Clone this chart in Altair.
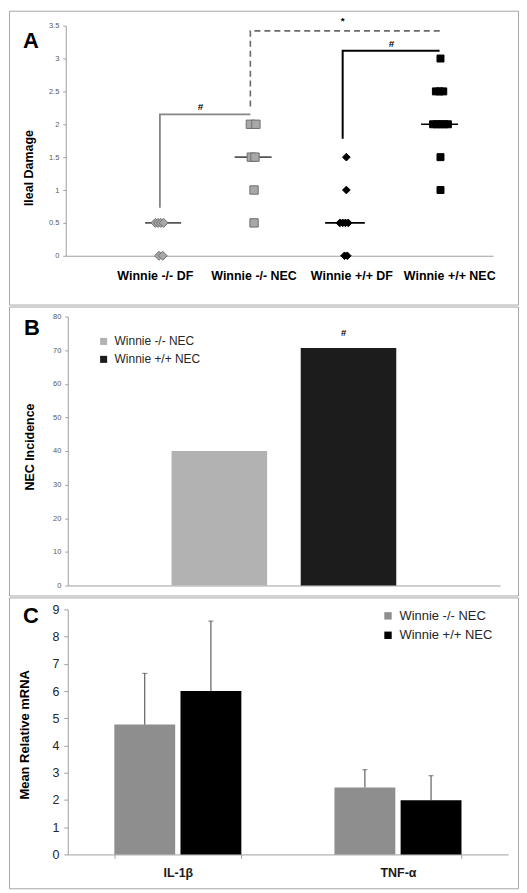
import altair as alt
import pandas as pd

FONT = "Liberation Sans"
BORDER = "#a6a6a6"
AXC = "#a0a0a0"

# ---------------- Panel A data ----------------
a_groups = ["Winnie -/- DF", "Winnie -/- NEC", "Winnie +/+ DF", "Winnie +/+ NEC"]
a_group = (["Winnie -/- DF"] * 6 + ["Winnie -/- NEC"] * 6 +
           ["Winnie +/+ DF"] * 8 + ["Winnie +/+ NEC"] * 11)
a_xpos = [0.94, 0.97, 1.00, 1.03, 0.98, 1.02,
          1.97, 2.03, 1.98, 2.02, 2.01, 2.01,
          3.01, 3.01, 2.94, 2.97, 3.00, 3.03, 2.99, 3.02,
          4.03, 3.98, 4.02, 4.06, 3.95, 3.99, 4.03, 4.07, 4.11, 4.03, 4.03]
a_score = [0.5, 0.5, 0.5, 0.5, 0, 0,
           2, 2, 1.5, 1.5, 1, 0.5,
           1.5, 1, 0.5, 0.5, 0.5, 0.5, 0, 0,
           3, 2.5, 2.5, 2.5, 2, 2, 2, 2, 2, 1.5, 1]
med_val = [0.5, 1.5, 0.5, 2.0]
med_x1 = [0.83, 1.80, 2.78, 3.82]
med_x2 = [1.22, 2.20, 3.21, 4.22]
label_x = [0.94, 2.01, 3.07, 4.13]

br1_x = [0.99, 0.99, 1.97]; br1_y = [0.73, 2.15, 2.15]
br2_x = [1.97, 1.97, 4.03]; br2_y = [2.27, 3.42, 3.42]
br3_x = [2.97, 2.97, 4.02]; br3_y = [1.78, 3.12, 3.12]
sig_text = ["#", "*", "#"]
sig_x = [1.43, 2.97, 3.50]
sig_y = [2.27, 3.57, 3.22]

# ---------------- Panel B data ----------------
b_cat = ["NEC", "NEC"]
b_group = ["Winnie -/- NEC", "Winnie +/+ NEC"]
b_val = [40, 70.6]

# ---------------- Panel C data ----------------
c_genes = ["IL-1β", "TNF-α"]
c_gene = ["IL-1β", "IL-1β", "TNF-α", "TNF-α"]
c_group = ["Winnie -/- NEC", "Winnie +/+ NEC", "Winnie -/- NEC", "Winnie +/+ NEC"]
c_mean = [4.77, 6.00, 2.46, 1.99]
c_err = [1.88, 2.57, 0.65, 0.90]

W = 511
HA, HB, HC = 295, 290, 292


def label(text, x, y, size, angle=0, weight="bold", color="#000000"):
    return alt.Chart(pd.DataFrame({"t": [text]})).mark_text(
        font=FONT, fontSize=size, fontWeight=weight, angle=angle, color=color,
        align="center", baseline="middle"
    ).encode(text="t:N", x=alt.value(x), y=alt.value(y))


# ================= Panel A =================
xA = alt.Scale(domain=[-0.03, 4.6], range=[57, 486])
yA = alt.Scale(domain=[0, 3.5], range=[246, 15])
xA_axis = alt.Axis(title=None, labels=False, ticks=False, grid=False,
                   domainColor=AXC, offset=-(HA - 246))
yA_axis = alt.Axis(title=None, grid=False, values=[0, 0.5, 1, 1.5, 2, 2.5, 3, 3.5],
                   format="~g", labelFontSize=7.5, labelColor="#595959", labelOverlap=False,
                   tickSize=3, tickColor=AXC, domainColor=AXC, labelPadding=4,
                   offset=-57)

pts = pd.DataFrame({"group": a_group, "x": a_xpos, "y": a_score})
points = alt.Chart(pts).mark_point(filled=True, opacity=1, strokeWidth=1).encode(
    x=alt.X("x:Q", scale=xA, axis=xA_axis),
    y=alt.Y("y:Q", scale=yA, axis=yA_axis),
    shape=alt.Shape("group:N", scale=alt.Scale(domain=a_groups, range=["diamond", "square", "diamond", "square"]), legend=None),
    fill=alt.Fill("group:N", scale=alt.Scale(domain=a_groups, range=["#a8a8a8", "#a8a8a8", "#000000", "#000000"]), legend=None),
    stroke=alt.Stroke("group:N", scale=alt.Scale(domain=a_groups, range=["#6e6e6e", "#6e6e6e", "#000000", "#000000"]), legend=None),
    size=alt.Size("group:N", scale=alt.Scale(domain=a_groups, range=[81, 49, 81, 49]), legend=None),
)

med = pd.DataFrame({"group": a_groups, "y": med_val, "x1": med_x1, "x2": med_x2})
medians = alt.Chart(med).mark_rule(strokeWidth=1.6).encode(
    x=alt.X("x1:Q", scale=xA, axis=xA_axis), x2="x2:Q",
    y=alt.Y("y:Q", scale=yA, axis=yA_axis),
    color=alt.Color("group:N", scale=alt.Scale(domain=a_groups, range=["#555555", "#555555", "#000000", "#000000"]), legend=None),
)


def bracket(xs, ys, color, width, dash=None):
    df = pd.DataFrame({"x": xs, "y": ys, "o": list(range(len(xs)))})
    kw = dict(color=color, strokeWidth=width)
    if dash:
        kw["strokeDash"] = dash
    return alt.Chart(df).mark_line(**kw).encode(
        x=alt.X("x:Q", scale=xA, axis=xA_axis),
        y=alt.Y("y:Q", scale=yA, axis=yA_axis),
        order="o:Q",
    )


b1 = bracket(br1_x, br1_y, "#858585", 1.8)
b2 = bracket(br2_x, br2_y, "#6a6a6a", 1.6, [6, 4])
b3 = bracket(br3_x, br3_y, "#000000", 2)

sig = alt.Chart(pd.DataFrame({"t": sig_text, "x": sig_x, "y": sig_y})).mark_text(
    font=FONT, fontSize=10, fontWeight="bold", color="#000000", baseline="middle"
).encode(x=alt.X("x:Q", scale=xA, axis=xA_axis), y=alt.Y("y:Q", scale=yA, axis=yA_axis), text="t:N")

cats = alt.Chart(pd.DataFrame({"t": a_groups, "x": label_x})).mark_text(
    font=FONT, fontSize=12.5, fontWeight="bold", color="#000000", baseline="middle"
).encode(x=alt.X("x:Q", scale=xA, axis=xA_axis), y=alt.value(266), text="t:N")

panelA = alt.layer(
    b1, b2, b3, medians, points, sig, cats,
    label("A", 22, 30, 22),
    label("Ileal Damage", 20, 158, 12.5, angle=270),
).properties(width=W, height=HA)

# ================= Panel B =================
dfB = pd.DataFrame({"cat": b_cat, "group": b_group, "val": b_val})
xB = alt.X("cat:N", scale=alt.Scale(range=[59, 493], paddingInner=0, paddingOuter=0.462),
           axis=alt.Axis(title=None, labels=False, ticks=False,
                         domainColor=AXC, offset=-(HB - 280)))
yB = alt.Y("val:Q", scale=alt.Scale(domain=[0, 80], range=[280, 10]),
           axis=alt.Axis(title=None, grid=False, values=list(range(0, 81, 10)), labelOverlap=False,
                         labelFontSize=7.5, labelColor="#595959", tickSize=3, tickColor=AXC,
                         domainColor=AXC, labelPadding=4, offset=-59))
xoB = alt.XOffset("group:N", scale=alt.Scale(domain=b_group, paddingInner=0.26, paddingOuter=0))
barsB = alt.Chart(dfB).mark_bar().encode(
    x=xB, y=yB, xOffset=xoB,
    color=alt.Color("group:N", scale=alt.Scale(domain=b_group, range=["#b2b2b2", "#1c1c1c"]),
                    legend=alt.Legend(title=None, orient="none", legendX=89, legendY=29,
                                      symbolType="square", symbolSize=50, symbolStrokeWidth=0,
                                      labelFontSize=12, labelFont=FONT, labelColor="#262626",
                                      rowPadding=6, labelOffset=5, padding=0)),
)
sigB = alt.Chart(pd.DataFrame({"cat": ["NEC"], "group": ["Winnie +/+ NEC"], "val": [75], "t": ["#"]})).mark_text(
    font=FONT, fontSize=9.5, fontWeight="bold", color="#000000", baseline="middle", dx=-5
).encode(x=xB, y=yB, xOffset=xoB, text="t:N")

panelB = alt.layer(
    barsB, sigB,
    label("B", 23, 22, 22),
    label("NEC Incidence", 21, 141, 12.5, angle=270),
).properties(width=W, height=HB)

# ================= Panel C =================
dfC = pd.DataFrame({"gene": c_gene, "group": c_group, "mean": c_mean, "err": c_err})
dfC["upper"] = dfC["mean"] + dfC["err"]
xC = alt.X("gene:N", sort=c_genes,
           scale=alt.Scale(domain=c_genes, range=[59, 501], paddingInner=0.423, paddingOuter=0.2115),
           axis=alt.Axis(title=None, labelFontSize=12.5, labelFontWeight="bold", labelFont=FONT,
                         labelColor="#1a1a1a", labelAngle=0, labelPadding=8, tickBand="extent",
                         tickSize=4, tickColor=AXC, domainColor=AXC, offset=-(HC - 258)))
yC_scale = alt.Scale(domain=[0, 9], range=[258, 12])
yC_axis = alt.Axis(title=None, grid=False, values=list(range(0, 10)), labelOverlap=False,
                   labelFontSize=12.5, labelColor="#262626", tickSize=4, tickColor=AXC,
                   domainColor=AXC, labelPadding=5, offset=-59)
yC = alt.Y("mean:Q", scale=yC_scale, axis=yC_axis)
xoC = alt.XOffset("group:N", scale=alt.Scale(domain=b_group, paddingInner=0.08, paddingOuter=0))
barsC = alt.Chart(dfC).mark_bar().encode(
    x=xC, y=yC, xOffset=xoC,
    color=alt.Color("group:N", scale=alt.Scale(domain=b_group, range=["#8e8e8e", "#000000"]),
                    legend=alt.Legend(title=None, orient="none", legendX=374, legendY=12,
                                      symbolType="square", symbolSize=55, symbolStrokeWidth=0,
                                      labelFontSize=13, labelFont=FONT, labelColor="#262626",
                                      rowPadding=5.5, labelOffset=5, padding=0)),
)
errC = alt.Chart(dfC).mark_rule(color="#404040", strokeWidth=1).encode(
    x=xC, xOffset=xoC, y=yC, y2="upper:Q")
capC = alt.Chart(dfC).mark_tick(color="#404040", thickness=1, size=5, orient="horizontal").encode(
    x=xC, xOffset=xoC, y=alt.Y("upper:Q", scale=yC_scale, axis=yC_axis))

panelC = alt.layer(
    barsC, errC, capC,
    label("C", 22, 19, 22),
    label("Mean  Relative  mRNA", 16, 138, 13, angle=270),
).properties(width=W, height=HC)

chart = alt.vconcat(panelA, panelB, panelC, spacing=0).resolve_scale(
    color="independent", xOffset="independent"
).resolve_legend(color="independent").properties(padding=0).configure(
    font=FONT, view=alt.ViewConfig(stroke=BORDER, strokeWidth=1)
)

chart.save("out.html", embed_options={"renderer": "svg", "actions": False})
